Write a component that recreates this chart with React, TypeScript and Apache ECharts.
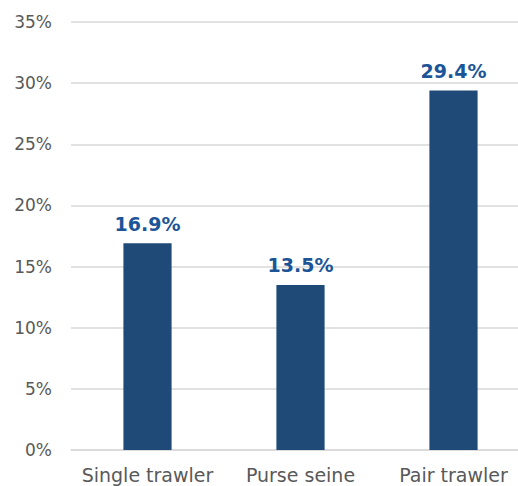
import React, { useEffect, useRef } from "react";
import * as echarts from "echarts";

const categories = ["Single trawler", "Purse seine", "Pair trawler"];
const values = [16.9, 13.5, 29.4];

export default function App() {
  const ref = useRef<HTMLDivElement>(null);
  useEffect(() => {
    const chart = echarts.init(ref.current!, null, { renderer: "svg" });
    chart.setOption({
      animation: false,
      grid: { left: 71, right: 0, top: 22, bottom: 36, containLabel: false },
      xAxis: {
        type: "category",
        data: categories,
        axisTick: { show: false },
        axisLine: { lineStyle: { color: "#D9D9D9", width: 1.5 } },
        axisLabel: { color: "#595959", fontSize: 19, fontFamily: "DejaVu Sans", margin: 15, interval: 0 },
      },
      yAxis: {
        type: "value",
        min: 0,
        max: 35,
        interval: 5,
        axisLabel: {
          color: "#595959",
          fontSize: 17,
          fontFamily: "DejaVu Sans",
          margin: 19,
          formatter: (v: number) => v + "%",
        },
        splitLine: { lineStyle: { color: "#D9D9D9", width: 1.5 } },
      },
      series: [
        {
          type: "bar",
          data: values,
          barWidth: "31.5%",
          itemStyle: { color: "#1F4A78" },
          label: {
            show: true,
            position: "top",
            distance: 10,
            color: "#1B5597",
            fontSize: 19,
            fontWeight: "bold",
            fontFamily: "DejaVu Sans",
            formatter: (p: any) => p.value.toFixed(1) + "%",
          },
          labelLayout: { hideOverlap: false },
        },
      ],
    });
    return () => chart.dispose();
  }, []);
  return (
    <div style={{ width: 518, height: 486, position: "absolute", left: 0, top: 0, overflow: "hidden" }}>
      <div ref={ref} style={{ width: 530, height: 486 }} />
    </div>
  );
}
